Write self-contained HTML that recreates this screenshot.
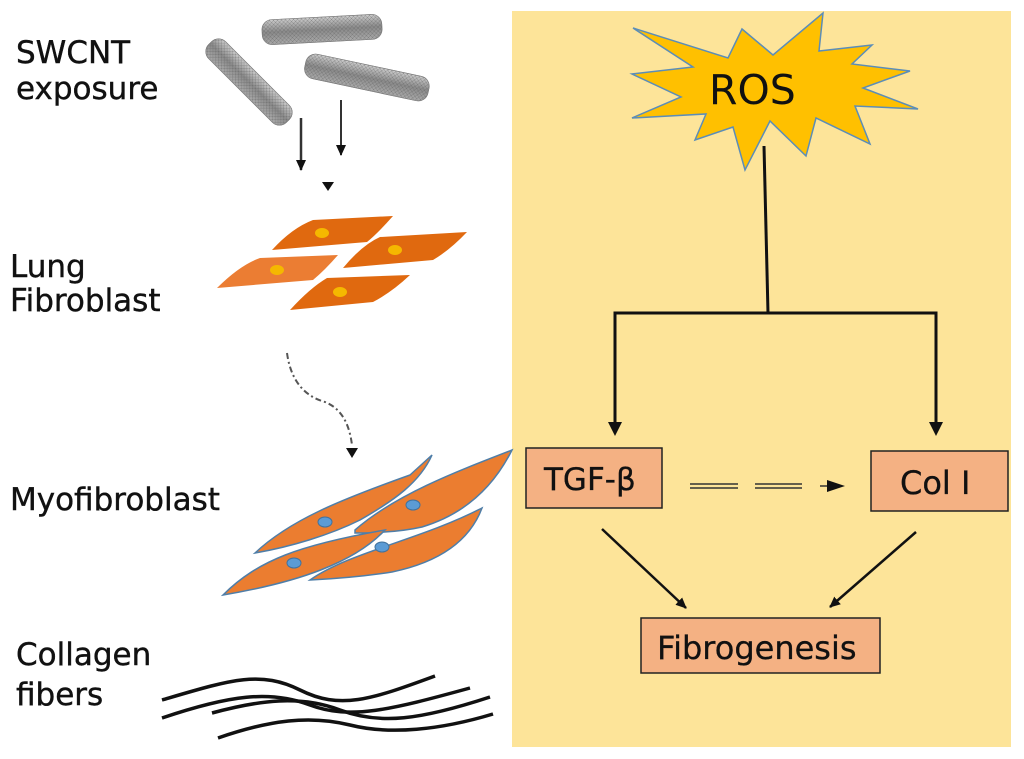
<!DOCTYPE html>
<html><head><meta charset="utf-8"><style>
html,body{margin:0;padding:0;background:#fff;width:1024px;height:759px;overflow:hidden}
svg{display:block}
text{font-family:"DejaVu Sans","Liberation Sans",sans-serif;fill:#111}
</style></head><body>
<svg width="1024" height="759" viewBox="0 0 1024 759" xmlns="http://www.w3.org/2000/svg">
<defs>
<marker id="ah" markerWidth="12" markerHeight="12" refX="10" refY="6" orient="auto" markerUnits="userSpaceOnUse"><path d="M0,1 L11,6 L0,11 Z" fill="#111"/></marker>
<linearGradient id="tube" x1="0" y1="0" x2="0" y2="1"><stop offset="0" stop-color="#ccc"/><stop offset="0.5" stop-color="#8a8a8a"/><stop offset="1" stop-color="#aaa"/></linearGradient>
<pattern id="mesh" width="4" height="4" patternUnits="userSpaceOnUse"><path d="M0,0 L4,4 M4,0 L0,4" stroke="#555" stroke-width="0.5"/></pattern>
</defs>
<rect x="512" y="11" width="499" height="736" fill="#fde499"/>
<!-- left labels -->
<g stroke="#111" stroke-width="0.4">
<text x="16" y="63" font-size="31">SWCNT</text>
<text x="16" y="99" font-size="31">exposure</text>
<text x="10" y="277" font-size="31">Lung</text>
<text x="10" y="311" font-size="31">Fibroblast</text>
<text x="10" y="510" font-size="31">Myofibroblast</text>
<text x="16" y="665" font-size="31">Collagen</text>
<text x="16" y="705" font-size="31">fibers</text>
</g>
<!-- nanotubes -->
<g stroke="#777" stroke-width="0.6">
<g transform="rotate(-3 322 29)"><rect x="262" y="17" width="120" height="25" rx="10" fill="url(#tube)"/><rect x="262" y="17" width="120" height="25" rx="10" fill="url(#mesh)" opacity="0.5"/></g>
<g transform="rotate(12 367 77)"><rect x="304" y="65" width="126" height="25" rx="10" fill="url(#tube)"/><rect x="304" y="65" width="126" height="25" rx="10" fill="url(#mesh)" opacity="0.5"/></g>
<g transform="rotate(45 249 82)"><rect x="194" y="70" width="110" height="24" rx="10" fill="url(#tube)"/><rect x="194" y="70" width="110" height="24" rx="10" fill="url(#mesh)" opacity="0.5"/></g>
</g>
<g stroke="#333" stroke-width="2.5" fill="none">
<line x1="301" y1="118" x2="301" y2="170" marker-end="url(#ah)"/>
<line x1="341" y1="100" x2="341" y2="155" stroke-width="2" marker-end="url(#ah)"/>
</g>
<path d="M322,182 L334,182 L328,191Z" fill="#111"/>
<!-- fibroblasts -->
<g fill="#e0690f">
<path d="M272,250 Q292,228 313,220 L393,216 Q378,233 367,242 Z"/>
<path d="M343,268 Q362,245 380,237 L467,232 Q450,250 433,260 Z"/>
<path d="M217,288 Q240,265 260,258 L338,255 Q325,270 313,280 Z" fill="#eb7d33"/>
<path d="M290,310 Q310,288 327,278 L410,275 Q392,292 373,302 Z"/>
</g>
<g fill="#f5b800"><ellipse cx="322" cy="233" rx="7" ry="5"/><ellipse cx="395" cy="250" rx="7" ry="5"/><ellipse cx="277" cy="270" rx="7" ry="5"/><ellipse cx="340" cy="292" rx="7" ry="5"/></g>
<!-- dashed curve -->
<path d="M287,353 C290,375 300,395 325,402 C345,410 350,430 352,445" fill="none" stroke="#555" stroke-width="2" stroke-dasharray="6,3,2,3"/>
<path d="M346,448 L358,448 L352,458Z" fill="#111"/>
<!-- myofibroblasts -->
<g fill="#eb7d30" stroke="#4f7ea8" stroke-width="1.5">
<path d="M255,553 C290,520 340,500 410,475 L432,455 C420,482 395,500 360,520 C330,535 290,547 255,553Z"/>
<path d="M355,530 C395,495 455,472 512,450 C492,490 462,515 422,527 C400,532 378,533 355,533Z"/>
<path d="M223,595 C258,560 300,545 385,530 C355,562 300,582 223,595Z"/>
<path d="M310,580 C350,552 420,540 482,508 C470,540 440,562 392,572 C360,577 330,579 310,580Z"/>
</g>
<g fill="#5b9bd5" stroke="#41719c"><ellipse cx="325" cy="522" rx="7" ry="5"/><ellipse cx="413" cy="505" rx="7" ry="5"/><ellipse cx="294" cy="563" rx="7" ry="5"/><ellipse cx="382" cy="547" rx="7" ry="5"/></g>
<!-- collagen fibers -->
<g fill="none" stroke="#111" stroke-width="3.5">
<path d="M162,700 C230,680 260,670 300,690 C340,710 370,700 435,676"/>
<path d="M162,718 C230,695 270,690 310,705 C350,720 390,710 470,688"/>
<path d="M212,713 C260,700 300,695 340,710 C380,725 420,720 490,697"/>
<path d="M218,738 C270,720 310,715 350,725 C390,735 440,730 493,714"/>
</g>
<!-- ROS star -->
<polygon points="633,28 728,58 742,29 773,55 823,13 819,51 872,45 852,64 910,71 863,88 918,109 855,106 870,144 816,118 806,156 770,121 745,170 733,127 695,140 706,114 632,118 681,97 632,74 693,67" fill="#ffc000" stroke="#5b8db8" stroke-width="1.5"/>
<text x="709" y="104" font-size="41" font-family="Liberation Sans,sans-serif" fill="#000">ROS</text>
<!-- connectors -->
<g stroke="#111" stroke-width="3" fill="none">
<path d="M764,146 L768,313"/>
<path d="M615,426 L615,313 L936,313 L936,426"/>
</g>
<path d="M608,422 L622,422 L615,436Z M929,422 L943,422 L936,436Z" fill="#111"/>
<!-- boxes -->
<g fill="#f4b183" stroke="#222" stroke-width="1.5">
<rect x="526" y="448" width="136" height="60"/>
<rect x="871" y="451" width="137" height="60"/>
<rect x="641" y="618" width="239" height="55"/>
</g>
<g stroke="#111" stroke-width="0.3">
<text x="544" y="490" font-size="31">TGF-β</text>
<text x="900" y="494" font-size="32">Col I</text>
<text x="657" y="659" font-size="32">Fibrogenesis</text>
</g>
<!-- dashed double arrow -->
<g stroke="#333" stroke-width="1.4">
<path d="M690,484 L738,484 M690,488 L738,488 M755,484 L802,484 M755,488 L802,488 M820,486 L832,486"/>
</g>
<path d="M827,480 L845,486 L827,492Z" fill="#111"/>
<g stroke="#111" stroke-width="2.5" fill="none">
<line x1="602" y1="529" x2="686" y2="608" marker-end="url(#ah)"/>
<line x1="916" y1="532" x2="830" y2="607" marker-end="url(#ah)"/>
</g>
</svg>
</body></html>
